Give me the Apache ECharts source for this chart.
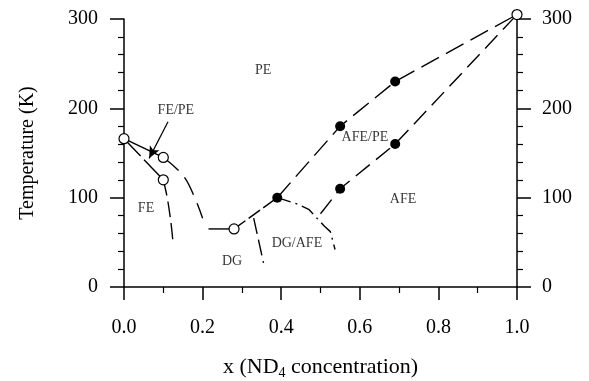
<!DOCTYPE html>
<html>
<head>
<meta charset="utf-8">
<script src="https://cdn.jsdelivr.net/npm/echarts@6/dist/echarts.min.js"></script>
<style>
  html, body { margin: 0; padding: 0; background: #fff; }
  #chart { width: 589px; height: 381px; }
</style>
</head>
<body>
<div id="chart"></div>
<script>
// measured points
var openPts = [[0, 166], [0.1, 145], [0.1, 120], [0.28, 65], [1.0, 305]];
var filledPts = [[0.39, 100], [0.55, 180], [0.69, 230], [0.55, 110], [0.69, 160]];

// phase boundaries
var feUpperSolid = [[0, 166], [0.1, 145]];
var feUpperDash = [[0.1, 145], [0.15, 125], [0.18, 100], [0.2, 77]];
var dgFlat = [[0.215, 65], [0.28, 65]];
var feLeft = [[0, 166], [0.1, 120]];
var feLower = [[0.1, 120], [0.11, 100], [0.12, 70], [0.125, 48]];
var dgAfe = [[0.28, 65], [0.39, 100]];
var dgBranch = [[0.33, 77], [0.355, 27]];
var afeDgBound = [[0.39, 100], [0.44, 93], [0.47, 87], [0.51, 68], [0.525, 62], [0.537, 42]];
var afePeUpper = [[0.39, 100], [0.55, 180], [0.69, 230], [1.0, 305]];
var afePeLower = [[0.5, 82], [0.55, 110], [0.69, 160], [1.0, 305]];

var arrowFrom = [0.112, 185];
var arrowTo = [0.064, 144];

var regionNames = ['PE', 'FE/PE', 'FE', 'DG', 'DG/AFE', 'AFE/PE', 'AFE'];
var regionPos = [[0.354, 243], [0.132, 198], [0.056, 88], [0.275, 29], [0.44, 49], [0.613, 168], [0.71, 98]];

var xTicks = [0, 1, 0.2];   // min, max, interval
var yTicks = [0, 300, 100];

var font = 'Liberation Serif';

function curve(data, dash, smooth) {
	return {
		type: 'line',
		data: data,
		smooth: smooth ? 0.4 : false,
		showSymbol: false,
		symbol: 'none',
		silent: true,
		clip: false,
		lineStyle: { color: '#000', width: 1.4, type: dash }
	};
}

var yAxisBase = {
	type: 'value',
	min: yTicks[0],
	max: yTicks[1],
	interval: yTicks[2],
	axisLine: { show: true, lineStyle: { color: '#000', width: 1.5 } },
	axisTick: { show: true, length: 14, lineStyle: { color: '#000', width: 1.5 } },
	minorTick: { show: true, splitNumber: 5, length: 6, lineStyle: { color: '#000', width: 1.2 } },
	splitLine: { show: false },
	axisLabel: { color: '#000', fontSize: 20, fontFamily: font, margin: 26 }
};

var chart = echarts.init(document.getElementById('chart'));
chart.setOption({
	backgroundColor: '#fff',
	animation: false,
	grid: { left: 124, right: 72, top: 19, bottom: 94, outerBoundsMode: 'none', containLabel: false },
	xAxis: {
		type: 'value',
		min: xTicks[0],
		max: xTicks[1],
		interval: xTicks[2],
		name: 'x (ND{sub|4} concentration)',
		nameLocation: 'middle',
		nameGap: 67,
		nameTextStyle: {
			color: '#000', fontSize: 22, fontFamily: font,
			rich: { sub: { fontSize: 14, fontFamily: font, color: '#000', verticalAlign: 'bottom', padding: [12, 0, 0, 0] } }
		},
		axisLine: { lineStyle: { color: '#000', width: 1.5 } },
		axisTick: { length: 13, lineStyle: { color: '#000', width: 1.5 } },
		minorTick: { show: true, splitNumber: 2, length: 6, lineStyle: { color: '#000', width: 1.2 } },
		splitLine: { show: false },
		axisLabel: {
			color: '#000', fontSize: 20, fontFamily: font, margin: 31,
			formatter: function (v) { return v.toFixed(1); }
		}
	},
	yAxis: [
		Object.assign({}, yAxisBase, {
			position: 'left',
			name: 'Temperature (K)',
			nameLocation: 'middle',
			nameGap: 86,
			nameTextStyle: { color: '#000', fontSize: 20, fontFamily: font }
		}),
		Object.assign({}, yAxisBase, { position: 'right', axisLabel: { color: '#000', fontSize: 20, fontFamily: font, margin: 25 } })
	],
	series: [
		curve(feUpperSolid, 'solid'),
		curve(feUpperDash, [20, 9], true),
		curve(dgFlat, 'solid'),
		curve(feLeft, [24, 5]),
		curve(feLower, [16, 6], true),
		curve(dgAfe, [14, 4]),
		curve(dgBranch, [16, 6]),
		curve(afeDgBound, [14, 5, 2, 5], false),
		curve(afePeUpper, [20, 8]),
		curve(afePeLower, [18, 8]),
		{
			type: 'line',
			data: [],
			silent: true,
			markLine: {
				silent: true,
				symbol: ['none', 'arrow'],
				symbolSize: [8, 12],
				label: { show: false },
				lineStyle: { color: '#000', width: 1.2, type: 'solid' },
				data: [[{ coord: arrowFrom }, { coord: arrowTo }]]
			}
		},
		{
			type: 'scatter',
			data: openPts,
			symbol: 'circle',
			symbolSize: 10,
			clip: false,
			z: 5,
			itemStyle: { color: '#fff', borderColor: '#000', borderWidth: 1.2, opacity: 1 }
		},
		{
			type: 'scatter',
			data: filledPts,
			symbol: 'circle',
			symbolSize: 10,
			clip: false,
			z: 5,
			itemStyle: { color: '#000', opacity: 1 }
		},
		{
			type: 'scatter',
			data: regionPos.map(function (p, i) { return { name: regionNames[i], value: p }; }),
			symbolSize: 0,
			silent: true,
			label: {
				show: true,
				position: 'inside',
				formatter: '{b}',
				color: '#000',
				fontSize: 14,
				fontFamily: font
			}
		}
	]
});
</script>
</body>
</html>
